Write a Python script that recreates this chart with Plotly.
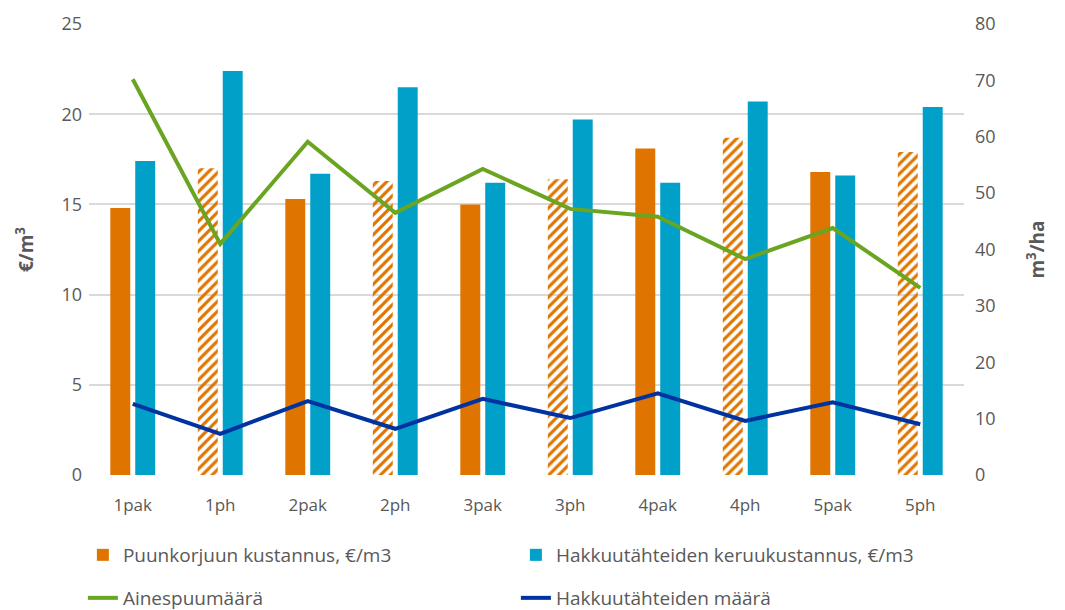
import plotly.graph_objects as go

categories = ["1pak", "1ph", "2pak", "2ph", "3pak", "3ph", "4pak", "4ph", "5pak", "5ph"]
harvest_cost = [14.8, 17.0, 15.3, 16.3, 15.0, 16.4, 18.1, 18.7, 16.8, 17.9]
residue_cost = [17.4, 22.4, 16.7, 21.5, 16.2, 19.7, 16.2, 20.7, 16.6, 20.4]
timber_volume = [70.2, 41.0, 59.1, 46.5, 54.3, 47.2, 45.8, 38.3, 43.8, 33.2]
residue_volume = [12.6, 7.3, 13.1, 8.2, 13.5, 10.1, 14.5, 9.6, 12.9, 9.0]
hatched = [False, True, False, True, False, True, False, True, False, True]

ORANGE = "#E07400"
BLUE = "#00A0C8"
GREEN = "#6AA521"
NAVY = "#0033A0"
GRAY = "#595959"
FONT = "Open Sans"

fig = go.Figure()
fig.add_trace(go.Bar(
    x=categories, y=harvest_cost, name="Puunkorjuun kustannus, €/m3", legend="legend",
    marker=dict(color=ORANGE, line=dict(width=0),
                pattern=dict(shape=["/" if h else "" for h in hatched],
                             fillmode="replace", size=7, solidity=0.45)),
))
fig.add_trace(go.Bar(
    x=categories, y=residue_cost, name="Hakkuutähteiden keruukustannus, €/m3", legend="legend",
    marker=dict(color=BLUE, line=dict(width=0)),
))
fig.add_trace(go.Scatter(
    x=categories, y=timber_volume, name="Ainespuumäärä", yaxis="y2", legend="legend2",
    mode="lines", line=dict(color=GREEN, width=4),
))
fig.add_trace(go.Scatter(
    x=categories, y=residue_volume, name="Hakkuutähteiden määrä", yaxis="y2", legend="legend2",
    mode="lines", line=dict(color=NAVY, width=4),
))

legend_common = dict(orientation="h", xanchor="left", yanchor="middle",
                     entrywidth=388, entrywidthmode="pixels", tracegroupgap=0,
                     font=dict(size=19, color=GRAY), traceorder="normal",
                     bgcolor="rgba(0,0,0,0)")

fig.update_layout(
    width=1065, height=610,
    margin=dict(l=81, r=109, t=16, b=143, autoexpand=False),
    paper_bgcolor="white", plot_bgcolor="white",
    font=dict(family=FONT, color=GRAY, size=17),
    barmode="group", bargap=0.43, bargroupgap=0.2,
    xaxis=dict(type="category", range=[-0.5, 9.5], showgrid=False,
               showline=False, ticks="", ticklabelstandoff=18,
               tickfont=dict(size=17, color=GRAY)),
    yaxis=dict(range=[0, 25], dtick=5, showgrid=True, gridcolor="#D9D9D9",
               gridwidth=1.5, zeroline=False, showline=False, ticks="",
               ticklabelstandoff=6,
               tickfont=dict(size=18, color=GRAY),
               title=dict(text="<b>€/m<sup>3</sup></b>", font=dict(size=19, color=GRAY), standoff=22)),
    yaxis2=dict(range=[0, 80], dtick=10, overlaying="y", side="right",
                showgrid=False, zeroline=False, showline=False, ticks="",
                ticklabelstandoff=10,
                tickfont=dict(size=18, color=GRAY),
                title=dict(text="<b>m<sup>3</sup>/ha</b>", font=dict(size=19, color=GRAY), standoff=36)),
    legend=dict(x=-0.007, y=(475 - 555) / 451, **legend_common),
    legend2=dict(x=-0.007, y=(475 - 598) / 451, **legend_common),
    showlegend=True,
)

fig.write_html("out.html")
